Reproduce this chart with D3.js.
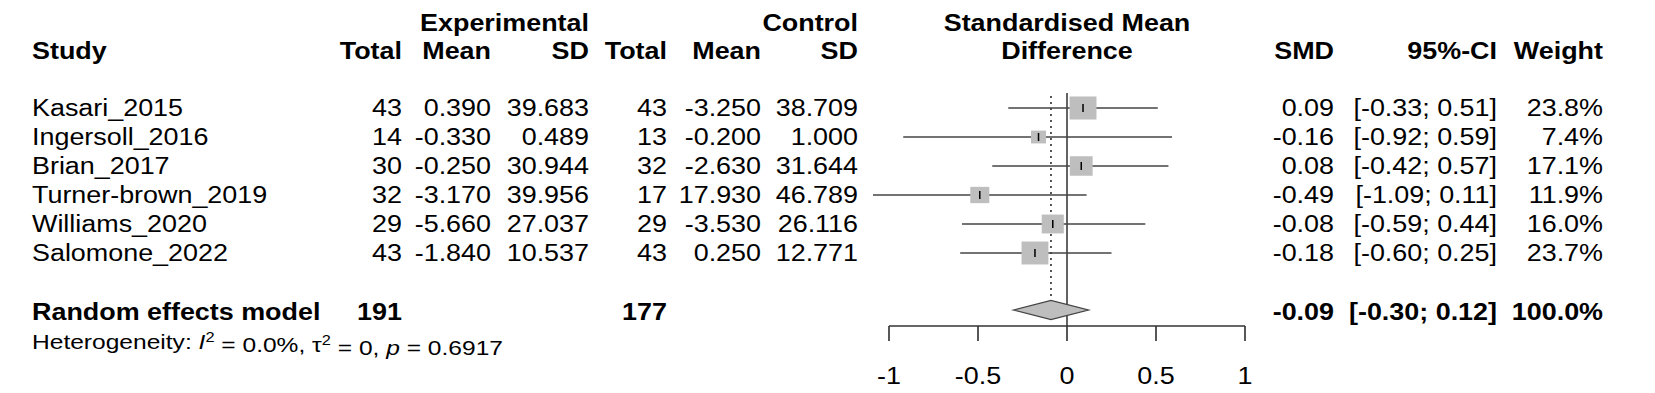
<!DOCTYPE html>
<html>
<head>
<meta charset="utf-8">
<script src="https://cdn.jsdelivr.net/npm/d3@7"></script>
<style>
  body { margin: 0; background: #fff; }
  svg text { font-family: "Liberation Sans", Arial, Helvetica, sans-serif; fill: #000; }
</style>
</head>
<body>
<script>
// Study level data
const studies = ["Kasari_2015", "Ingersoll_2016", "Brian_2017", "Turner-brown_2019", "Williams_2020", "Salomone_2022"];
const expTotal = [43, 14, 30, 32, 29, 43];
const expMean = [0.39, -0.33, -0.25, -3.17, -5.66, -1.84];
const expSD = [39.683, 0.489, 30.944, 39.956, 27.037, 10.537];
const ctrlTotal = [43, 13, 32, 17, 29, 43];
const ctrlMean = [-3.25, -0.2, -2.63, 17.93, -3.53, 0.25];
const ctrlSD = [38.709, 1.0, 31.644, 46.789, 26.116, 12.771];
const smd = [0.09, -0.16, 0.08, -0.49, -0.08, -0.18];
const ciLow = [-0.33, -0.92, -0.42, -1.09, -0.59, -0.60];
const ciHigh = [0.51, 0.59, 0.57, 0.11, 0.44, 0.25];
const weight = [23.8, 7.4, 17.1, 11.9, 16.0, 23.7];

// Pooled estimate
const pooled = { expTotal: 191, ctrlTotal: 177, smd: -0.09, lo: -0.30, hi: 0.12, weight: 100.0 };
const heterogeneity = { i2: "0.0%", tau2: "0", p: "0.6917" };
const xTicks = [-1, -0.5, 0, 0.5, 1];

// The picture is stretched horizontally, so draw in a narrower space and scale it
const W = 1655, H = 393, SX = 1.17;
const X = v => v / SX;

const svg = d3.select("body").append("svg")
    .attr("width", W)
    .attr("height", H);

const g = svg.append("g").attr("transform", `scale(${SX},1)`);

const fontSize = 23;
const rowY = d3.scalePoint().domain(d3.range(studies.length)).range([108, 253]);
const pooledY = 310;

// Column right edges (px in the picture)
const cols = {
    expTotal: 402, expMean: 491, expSD: 589,
    ctrlTotal: 667, ctrlMean: 761, ctrlSD: 858,
    smd: 1334, ci: 1497, weight: 1603
};

const fx = (v, n) => v.toFixed(n);

function txt(x, y, s, anchor = "end", bold = false, size = fontSize) {
    return g.append("text")
        .attr("x", X(x))
        .attr("y", y)
        .attr("dy", "0.36em")
        .attr("text-anchor", anchor)
        .style("font-size", size + "px")
        .style("font-weight", bold ? "bold" : "normal")
        .text(s);
}

// Headers
const h1 = 23, h2 = 51;
txt(cols.expSD, h1, "Experimental", "end", true);
txt(cols.ctrlSD, h1, "Control", "end", true);
txt(1067, h1, "Standardised Mean", "middle", true);
txt(32, h2, "Study", "start", true);
txt(cols.expTotal, h2, "Total", "end", true);
txt(cols.expMean, h2, "Mean", "end", true);
txt(cols.expSD, h2, "SD", "end", true);
txt(cols.ctrlTotal, h2, "Total", "end", true);
txt(cols.ctrlMean, h2, "Mean", "end", true);
txt(cols.ctrlSD, h2, "SD", "end", true);
txt(1067, h2, "Difference", "middle", true);
txt(cols.smd, h2, "SMD", "end", true);
txt(cols.ci, h2, "95%-CI", "end", true);
txt(cols.weight, h2, "Weight", "end", true);

// Study rows
studies.forEach((s, i) => {
    const y = rowY(i);
    txt(32, y, s, "start");
    txt(cols.expTotal, y, expTotal[i]);
    txt(cols.expMean, y, fx(expMean[i], 3));
    txt(cols.expSD, y, fx(expSD[i], 3));
    txt(cols.ctrlTotal, y, ctrlTotal[i]);
    txt(cols.ctrlMean, y, fx(ctrlMean[i], 3));
    txt(cols.ctrlSD, y, fx(ctrlSD[i], 3));
    txt(cols.smd, y, fx(smd[i], 2));
    txt(cols.ci, y, `[${fx(ciLow[i], 2)}; ${fx(ciHigh[i], 2)}]`);
    txt(cols.weight, y, `${fx(weight[i], 1)}%`);
});

// Pooled row
const pooledTextY = pooledY + 2;
txt(32, pooledTextY, "Random effects model", "start", true);
txt(cols.expTotal, pooledTextY, pooled.expTotal, "end", true);
txt(cols.ctrlTotal, pooledTextY, pooled.ctrlTotal, "end", true);
txt(cols.smd, pooledTextY, fx(pooled.smd, 2), "end", true);
txt(cols.ci, pooledTextY, `[${fx(pooled.lo, 2)}; ${fx(pooled.hi, 2)}]`, "end", true);
txt(cols.weight, pooledTextY, `${fx(pooled.weight, 1)}%`, "end", true);

// Heterogeneity line
const het = g.append("text")
    .attr("x", X(32))
    .attr("y", 341)
    .attr("dy", "0.36em")
    .style("font-size", "21px");
het.append("tspan").text("Heterogeneity: ");
het.append("tspan").style("font-style", "italic").text("I");
het.append("tspan").attr("dy", "-0.45em").style("font-size", "14px").text("2");
het.append("tspan").attr("dy", "0.45em").text(" = " + heterogeneity.i2 + ", \u03c4");
het.append("tspan").attr("dy", "-0.45em").style("font-size", "14px").text("2");
het.append("tspan").attr("dy", "0.45em").text(" = " + heterogeneity.tau2 + ", ");
het.append("tspan").style("font-style", "italic").text("p");
het.append("tspan").text(" = " + heterogeneity.p);

// Forest plot
const x = d3.scaleLinear().domain([-1, 1]).range([X(889), X(1245)]);
const side = d3.scaleSqrt().domain([0, d3.max(weight)]).range([0, 23]);
const axisY = 326;

// Reference line at zero
g.append("line")
    .attr("x1", x(0)).attr("x2", x(0))
    .attr("y1", 93).attr("y2", axisY)
    .attr("stroke", "#333").attr("stroke-width", 1.3);

// Dotted line at pooled estimate
g.append("line")
    .attr("x1", x(pooled.smd)).attr("x2", x(pooled.smd))
    .attr("y1", 96).attr("y2", pooledY - 10)
    .attr("stroke", "#222").attr("stroke-width", 1.3)
    .attr("stroke-dasharray", "2,4");

const rows = g.selectAll(".study").data(studies).join("g").attr("class", "study");

rows.append("line")
    .attr("x1", (d, i) => x(ciLow[i]))
    .attr("x2", (d, i) => x(ciHigh[i]))
    .attr("y1", (d, i) => rowY(i))
    .attr("y2", (d, i) => rowY(i))
    .attr("stroke", "#444").attr("stroke-width", 1.6);

rows.append("rect")
    .attr("x", (d, i) => x(smd[i]) - side(weight[i]) / 2)
    .attr("y", (d, i) => rowY(i) - side(weight[i]) / 2)
    .attr("width", (d, i) => side(weight[i]))
    .attr("height", (d, i) => side(weight[i]))
    .attr("fill", "#bebebe");

rows.append("line")
    .attr("x1", (d, i) => x(smd[i]))
    .attr("x2", (d, i) => x(smd[i]))
    .attr("y1", (d, i) => rowY(i) - 4)
    .attr("y2", (d, i) => rowY(i) + 4)
    .attr("stroke", "#000").attr("stroke-width", 1.3);

// Diamond for the pooled estimate
g.append("path")
    .attr("d", `M${x(pooled.lo)},${pooledY} L${x(pooled.smd)},${pooledY - 9.5} L${x(pooled.hi)},${pooledY} L${x(pooled.smd)},${pooledY + 9.5} Z`)
    .attr("fill", "#bebebe")
    .attr("stroke", "#444")
    .attr("stroke-width", 1.3);

// Axis
const axis = g.append("g").attr("transform", `translate(0,${axisY})`);
axis.append("line")
    .attr("x1", x(-1)).attr("x2", x(1))
    .attr("stroke", "#333").attr("stroke-width", 1.6);
axis.selectAll(".tick").data(xTicks).join("line")
    .attr("class", "tick")
    .attr("x1", d => x(d)).attr("x2", d => x(d))
    .attr("y1", 0).attr("y2", 15)
    .attr("stroke", "#333").attr("stroke-width", 1.4);
axis.selectAll(".tick-label").data(xTicks).join("text")
    .attr("class", "tick-label")
    .attr("x", d => x(d))
    .attr("y", 50)
    .attr("dy", "0.36em")
    .attr("text-anchor", "middle")
    .style("font-size", fontSize + "px")
    .text(d => d);
</script>
</body>
</html>
